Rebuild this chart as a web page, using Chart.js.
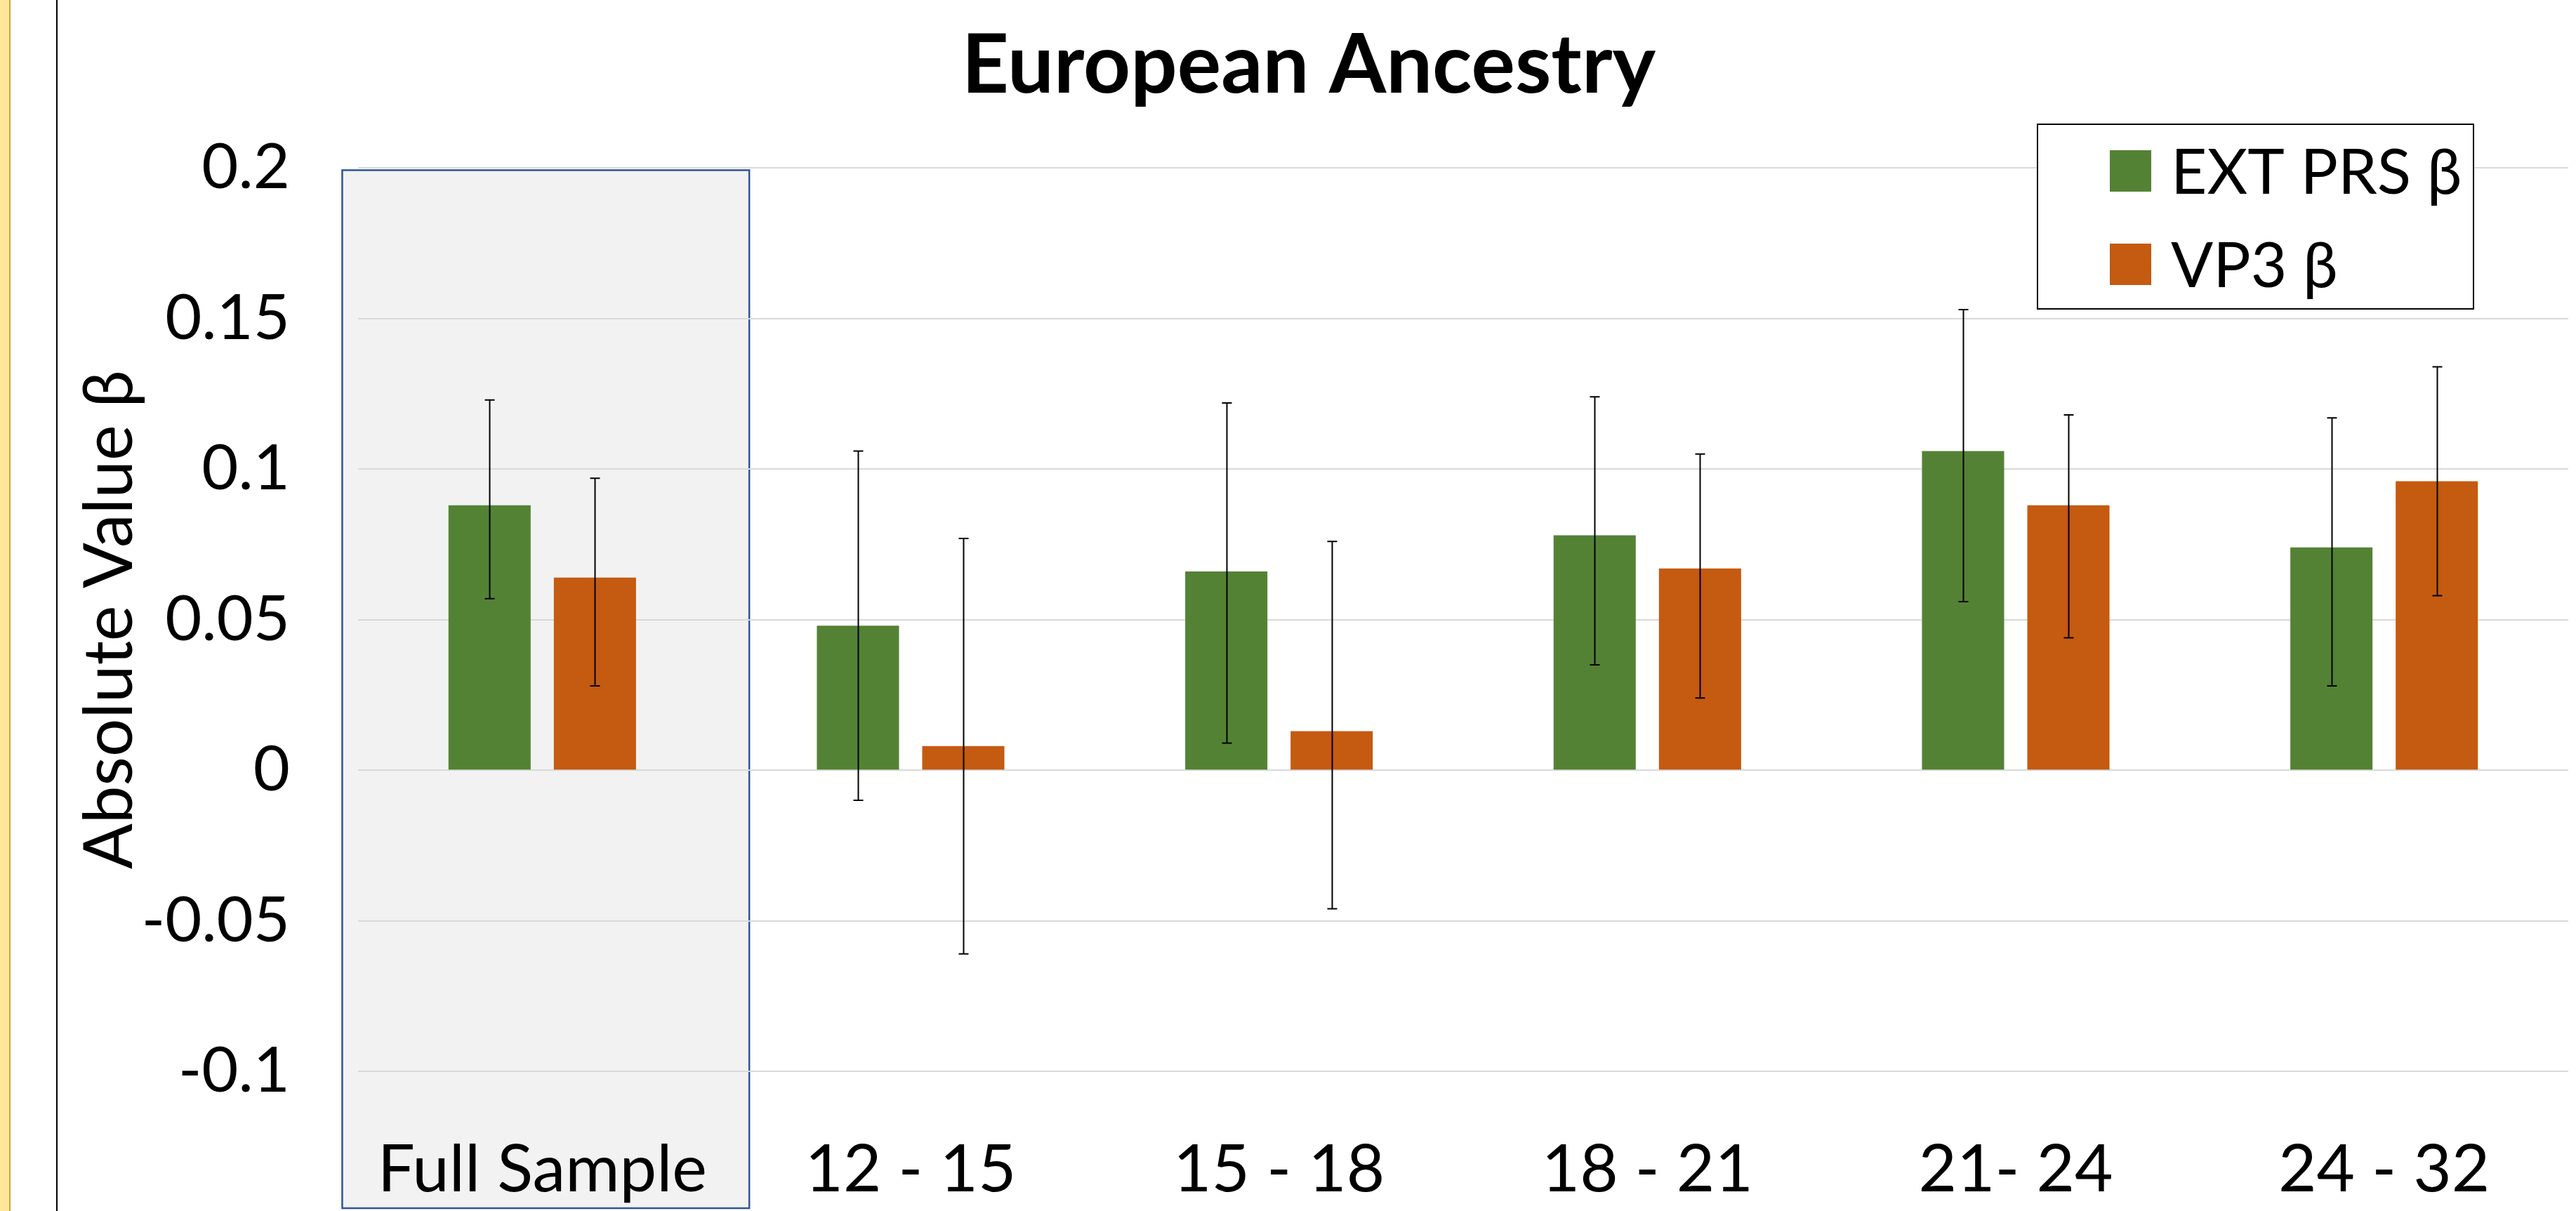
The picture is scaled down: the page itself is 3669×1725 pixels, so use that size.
<!DOCTYPE html>
<html>
<head>
<meta charset="utf-8">
<title>European Ancestry</title>
<script src="https://cdn.jsdelivr.net/npm/chart.js@4.4.1/dist/chart.umd.min.js"></script>
<style>
  html, body { margin: 0; padding: 0; background: #ffffff; overflow: hidden; }
  #wrap { position: relative; width: 3669px; height: 1725px; }
  #c { position: absolute; left: 0; top: 0; }
  #strip { position: absolute; left: 0; top: 0; width: 13px; height: 1725px; background: #FFE699; border-right: 2px solid #C9A53A; }
  #rule { position: absolute; left: 80px; top: 0; width: 2px; height: 1725px; background: #000000; }
</style>
</head>
<body>
<div id="wrap">
  <canvas id="c" width="3669" height="1725"></canvas>
  <div id="strip"></div>
  <div id="rule"></div>
</div>
<script>
// Age windows (plus the pooled sample) on the x axis
const categories = ["Full Sample", "12 - 15", "15 - 18", "18 - 21", "21- 24", "24 - 32"];

// Series labels
const extLabel = "EXT PRS \u03B2";
const vp3Label = "VP3 \u03B2";

// EXT PRS effect sizes with confidence limits
const extBeta = [0.088, 0.048, 0.066, 0.078, 0.106, 0.074];
const extLow  = [0.057, -0.010, 0.009, 0.035, 0.056, 0.028];
const extHigh = [0.123, 0.106, 0.122, 0.124, 0.153, 0.117];

// VP3 effect sizes with confidence limits
const vp3Beta = [0.064, 0.008, 0.013, 0.067, 0.088, 0.096];
const vp3Low  = [0.028, -0.061, -0.046, 0.024, 0.044, 0.058];
const vp3High = [0.097, 0.077, 0.076, 0.105, 0.118, 0.134];

// Value axis ticks
const yTicks = [-0.1, -0.05, 0, 0.05, 0.1, 0.15, 0.2];

const GREEN = "#548235";
const ORANGE = "#C55A11";
const FONT = "Lato, 'Open Sans', sans-serif";

// Shaded panel behind the pooled-sample group
const panelPlugin = {
  id: "panel",
  beforeDraw(chart) {
    const { ctx } = chart;
    const x = chart.scales.x, y = chart.scales.y;
    const step = (x.right - x.left) / categories.length;
    const cx = x.getPixelForValue(0);
    const left = cx - 0.543 * step;
    const right = cx + 0.562 * step;
    const top = y.getPixelForValue(yTicks[yTicks.length - 1]) + 3;
    const bottom = chart.height - 4;
    ctx.save();
    ctx.fillStyle = "#F2F2F2";
    ctx.fillRect(left, top, right - left, bottom - top);
    ctx.strokeStyle = "#2F5597";
    ctx.lineWidth = 2.5;
    ctx.strokeRect(left, top, right - left, bottom - top);
    ctx.restore();
  }
};

// Confidence-interval whiskers for each bar
const whiskerPlugin = {
  id: "whiskers",
  afterDatasetsDraw(chart) {
    const { ctx } = chart;
    const y = chart.scales.y;
    const limits = [[extLow, extHigh], [vp3Low, vp3High]];
    ctx.save();
    ctx.strokeStyle = "#000000";
    ctx.lineWidth = 2;
    chart.data.datasets.forEach((ds, di) => {
      const meta = chart.getDatasetMeta(di);
      meta.data.forEach((bar, i) => {
        const lo = y.getPixelForValue(limits[di][0][i]);
        const hi = y.getPixelForValue(limits[di][1][i]);
        const bx = Math.round(bar.x) + 0.5;
        ctx.beginPath();
        ctx.moveTo(bx, lo); ctx.lineTo(bx, hi);
        ctx.moveTo(bx - 7, lo); ctx.lineTo(bx + 7, lo);
        ctx.moveTo(bx - 7, hi); ctx.lineTo(bx + 7, hi);
        ctx.stroke();
      });
    });
    ctx.restore();
  }
};

// Boxed legend in the upper-right corner of the plot
const boxLegendPlugin = {
  id: "boxLegend",
  afterDraw(chart) {
    const { ctx } = chart;
    const bx = 2902, by = 177, bw = 621, bh = 263;
    ctx.save();
    ctx.fillStyle = "#ffffff";
    ctx.fillRect(bx, by, bw, bh);
    ctx.strokeStyle = "#000000";
    ctx.lineWidth = 2;
    ctx.strokeRect(bx, by, bw, bh);
    const rows = [243, 376];
    ctx.font = "89px " + FONT;
    ctx.textAlign = "left";
    ctx.textBaseline = "middle";
    chart.data.datasets.forEach((ds, i) => {
      ctx.fillStyle = ds.backgroundColor;
      ctx.fillRect(bx + 103, rows[i] - 29, 59, 59);
      ctx.fillStyle = "#000000";
      ctx.fillText(ds.label, bx + 190, rows[i] + 4);
    });
    ctx.restore();
  }
};

new Chart(document.getElementById("c"), {
  type: "bar",
  data: {
    labels: categories,
    datasets: [
      { label: extLabel, data: extBeta, backgroundColor: GREEN, categoryPercentage: 0.572, barPercentage: 0.78 },
      { label: vp3Label, data: vp3Beta, backgroundColor: ORANGE, categoryPercentage: 0.572, barPercentage: 0.78 }
    ]
  },
  options: {
    responsive: false,
    animation: false,
    devicePixelRatio: 1,
    layout: { padding: { left: 70, right: 11, top: 0, bottom: 0 } },
    plugins: {
      legend: { display: false },
      tooltip: { enabled: false },
      title: {
        display: true,
        text: "European Ancestry",
        color: "#000000",
        font: { family: FONT, size: 117, weight: "bold", lineHeight: 1.2 },
        padding: { top: 24, bottom: 75 }
      }
    },
    scales: {
      x: {
        grid: { display: false, drawTicks: false },
        border: { display: false },
        ticks: { color: "#000000", font: { family: FONT, size: 94, lineHeight: 1.2 }, padding: 84, maxRotation: 0, autoSkip: false },
        afterFit(scale) { scale.height = 199; }
      },
      y: {
        min: -0.1,
        max: 0.2,
        afterBuildTicks(scale) { scale.ticks = yTicks.map(v => ({ value: v })); },
        grid: { color: "#D9D9D9", lineWidth: 2, drawTicks: false },
        border: { display: false },
        ticks: {
          color: "#000000",
          font: { family: FONT, size: 90, lineHeight: 1.2 },
          padding: 97,
          callback: v => String(Number(v.toFixed(2)))
        },
        title: {
          display: true,
          text: "Absolute Value \u03B2",
          color: "#000000",
          font: { family: FONT, size: 96, lineHeight: 1.2 },
          padding: { top: 29, bottom: 0 }
        },
        afterFit(scale) { scale.width = 440; }
      }
    }
  },
  plugins: [panelPlugin, whiskerPlugin, boxLegendPlugin]
});
</script>
</body>
</html>
